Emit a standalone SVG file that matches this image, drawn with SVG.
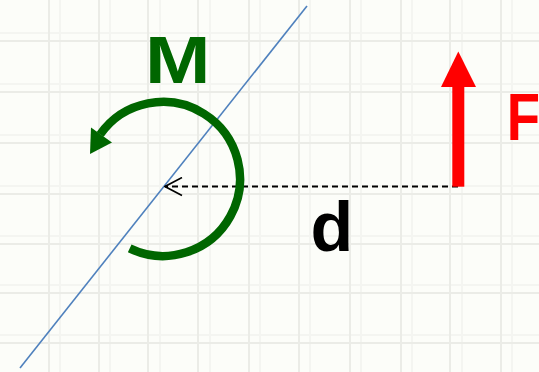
<svg xmlns="http://www.w3.org/2000/svg" width="539" height="372" viewBox="0 0 539 372">
  <style>
    .grid { stroke: #ebece7; stroke-width: 2; fill: none; }
    .grid2 { stroke: #f4f5f1; stroke-width: 2; fill: none; }
    .lbl { font-family: "Liberation Sans", Arial, sans-serif; font-weight: bold; }
  </style>
  <defs>
    <marker id="open" viewBox="0 0 20 20" refX="19" refY="10" markerWidth="20" markerHeight="20" markerUnits="userSpaceOnUse" orient="auto">
      <path d="M2,1 L19,10 L2,19" fill="none" stroke="#000" stroke-width="1.6"/>
    </marker>
  </defs>
  <rect width="539" height="372" fill="#fcfdf9"/>
  <g id="grid">
    <path class="grid2" d="M60,0V372 M110,0V372 M160,0V372 M210,0V372 M260,0V372 M310,0V372 M361,0V372 M412,0V372 M462,0V372 M512,0V372 M0,33H539 M0,84H539 M0,135H539 M0,186H539 M0,236H539 M0,285H539 M0,335H539"/>
    <path class="grid" d="M49,0V372 M99,0V372 M148,0V372 M198,0V372 M249,0V372 M299,0V372 M350,0V372 M401,0V372 M450,0V372 M501,0V372 M0,41H539 M0,92H539 M0,143H539 M0,194H539 M0,244H539 M0,293H539 M0,343H539"/>
  </g>
  <g id="axis">
    <line x1="20" y1="368" x2="307" y2="6" stroke="#4f81bd" stroke-width="1.6"/>
  </g>
  <g id="connectors">
    <line x1="458" y1="186.5" x2="165" y2="186.5" stroke="#000" stroke-width="1.8" stroke-dasharray="6 4" marker-end="url(#open)"/>
  </g>
  <g id="moment">
    <path d="M129.7,248.4 A77,77 0 1 0 100.2,134.4" fill="none" stroke="#006600" stroke-width="8.5"/>
    <polygon points="90,154 91,127.5 112,142.5" fill="#006600"/>
    <text class="lbl" transform="translate(145,83) scale(1.174,1)" font-size="67" fill="#006600">M</text>
  </g>
  <g id="force">
    <rect x="452.3" y="84" width="12" height="102.7" fill="#ff0000"/>
    <polygon points="458.3,51.5 441,87 476,87" fill="#ff0000"/>
    <text class="lbl" transform="translate(506.7,140) scale(0.82,1)" font-size="66.5" fill="#ff0000">F</text>
  </g>
  <g id="distance">
    <text class="lbl" x="310.6" y="251" font-size="70" fill="#000">d</text>
  </g>
</svg>
